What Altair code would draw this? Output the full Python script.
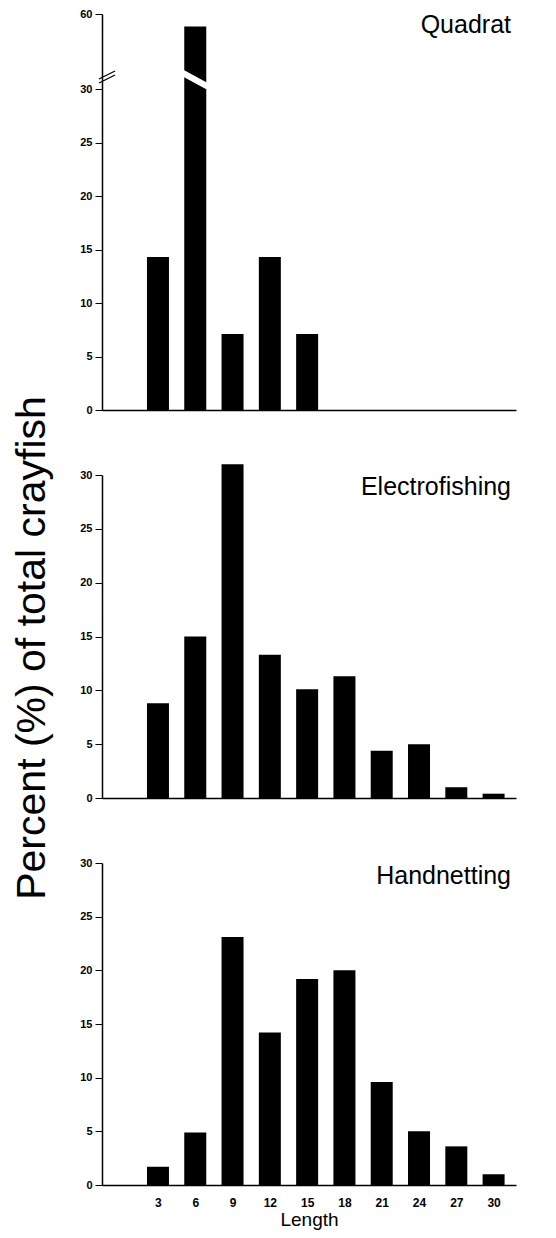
import altair as alt
import pandas as pd

# ---- data ----
lengths = [3, 6, 9, 12, 15, 18, 21, 24, 27, 30]
quadrat = [14.3, 55.0, 7.1, 14.3, 7.1, 0, 0, 0, 0, 0]
electrofishing = [8.8, 15.0, 31.0, 13.3, 10.1, 11.3, 4.4, 5.0, 1.0, 0.4]
handnetting = [1.7, 4.9, 23.1, 14.2, 19.2, 20.0, 9.6, 5.0, 3.6, 1.0]

panel_names = ["Quadrat", "Electrofishing", "Handnetting"]
y_ticks_low = [0, 5, 10, 15, 20, 25, 30]
y_ticks_top = [0, 5, 10, 15, 20, 25, 30, 60]
x_ticks = lengths

# axis-break decoration (in data units)
axis_break_x = [-1.75, -0.45]
axis_break_y_a = [32.4, 35.6]
axis_break_y_b = [34.0, 37.2]
bar_break_x = [5.0, 7.0]
bar_break_y = [36.4, 31.0]

FONT = "Liberation Sans"
W = 414
H_TOP, H_MID, H_BOT = 396, 323, 322

xscale = alt.Scale(domain=[-1.1, 31.4], nice=False, zero=False)


def xaxis(bottom):
    if bottom:
        return alt.Axis(values=x_ticks, ticks=False, labelFont=FONT, labelFontWeight="bold",
                        labelFontSize=12, labelPadding=12, labelColor="black",
                        domainColor="black", domainWidth=1.5,
                        title="Length", titleFont=FONT, titleFontSize=19,
                        titleFontWeight="normal", titlePadding=2, titleColor="black")
    return alt.Axis(labels=False, ticks=False, title=None, domainColor="black", domainWidth=1.5)


def yaxis(values, title=False):
    kw = dict(values=values, tickSize=7, tickColor="black", tickWidth=1,
              labelFont=FONT, labelFontWeight="bold", labelFontSize=11, labelPadding=3,
              labelColor="black", domainColor="black", domainWidth=1.5)
    if title:
        kw.update(title="Percent (%) of total crayfish", titleFont=FONT, titleFontSize=41,
                  titleFontWeight="normal", titleColor="black", titleX=-49,
                  titleY=H_MID / 2 + 11)
    else:
        kw.update(title=None)
    return alt.Axis(**kw)


def panel(values, name, height, yscale, yticks, bottom=False, ytitle=False, title_y=18):
    df = pd.DataFrame({"length": lengths, "pct": values})
    bars = alt.Chart(df).mark_bar(color="black", size=22).encode(
        x=alt.X("length:Q", scale=xscale, axis=xaxis(bottom)),
        y=alt.Y("pct:Q", scale=yscale, axis=yaxis(yticks, ytitle)),
    )
    label = alt.Chart(pd.DataFrame({"name": [name]})).mark_text(
        align="right", baseline="alphabetic", font=FONT, fontSize=25, color="black"
    ).encode(text="name:N", x=alt.value(W - 5), y=alt.value(title_y))
    return bars, label


# top panel with broken axis (piecewise linear scale)
top_scale = alt.Scale(domain=[0, 30, 60], range=[H_TOP, 75, 0], nice=False, zero=False)
bars_t, label_t = panel(quadrat, panel_names[0], H_TOP, top_scale, y_ticks_top, title_y=19)

stripe = alt.Chart(pd.DataFrame({
    "x": [bar_break_x[0]], "x2": [bar_break_x[1]],
    "y": [bar_break_y[0]], "y2": [bar_break_y[1]]})).mark_rule(
    color="white", strokeWidth=6, strokeCap="butt").encode(
    x="x:Q", x2="x2", y="y:Q", y2="y2")

slashes = alt.Chart(pd.DataFrame({
    "x": [axis_break_x[0]] * 2, "x2": [axis_break_x[1]] * 2,
    "y": [axis_break_y_a[0], axis_break_y_b[0]],
    "y2": [axis_break_y_a[1], axis_break_y_b[1]]})).mark_rule(
    color="black", strokeWidth=1.2).encode(
    x="x:Q", x2="x2", y="y:Q", y2="y2")

top = alt.layer(bars_t, stripe, slashes, label_t).properties(width=W, height=H_TOP)

mid_scale = alt.Scale(domain=[0, 30], nice=False, zero=True)
bars_m, label_m = panel(electrofishing, panel_names[1], H_MID, mid_scale, y_ticks_low,
                        ytitle=True, title_y=20)
mid = alt.layer(bars_m, label_m).properties(width=W, height=H_MID)

bot_scale = alt.Scale(domain=[0, 30], nice=False, zero=True)
bars_b, label_b = panel(handnetting, panel_names[2], H_BOT, bot_scale, y_ticks_low,
                        bottom=True, title_y=21)
bot = alt.layer(bars_b, label_b).properties(width=W, height=H_BOT)

chart = alt.vconcat(top, mid, bot, spacing=65, bounds="flush").resolve_scale(
    y="independent"
).properties(
    padding={"left": 2, "top": 0, "right": 5, "bottom": 5}
).configure_view(stroke=None).configure_axis(grid=False)

chart.save("out.html", embed_options={"renderer": "svg", "actions": False})
